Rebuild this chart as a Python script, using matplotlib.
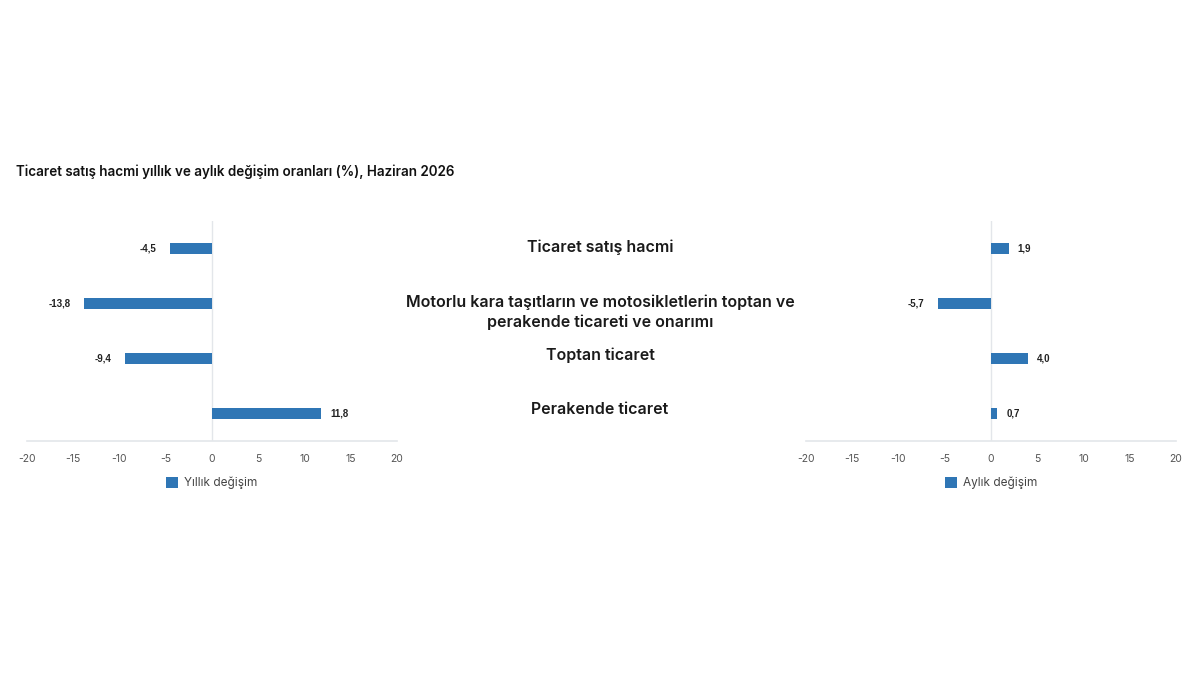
import numpy as np
import matplotlib.pyplot as plt

categories = ["Ticaret satış hacmi",
              "Motorlu kara taşıtların ve motosikletlerin toptan ve\nperakende ticareti ve onarımı",
              "Toptan ticaret",
              "Perakende ticaret"]
yillik = [-4.5, -13.8, -9.4, 11.8]
aylik = [1.9, -5.7, 4.0, 0.7]
ticks = [-20, -15, -10, -5, 0, 5, 10, 15, 20]

bar_color = "#2f76b5"
grid_color = "#e3e6ea"

fig = plt.figure(figsize=(12, 6.75), dpi=100)
fig.patch.set_facecolor("white")

fig.text(0.0135, 1 - 172 / 675, "Ticaret satış hacmi yıllık ve aylık değişim oranları (%), Haziran 2026",
         fontsize=9.7, fontweight="semibold", family="Inter", color="#111111", va="center")


def panel(left, values, legend_label):
    ax = fig.add_axes([left, 1 - 441 / 675, 370 / 1200, 220 / 675])
    y = np.arange(len(values))
    ax.barh(y, values, height=0.2, color=bar_color, zorder=3)
    ax.set_ylim(len(values) - 0.5, -0.5)
    ax.set_xlim(-20, 20)
    ax.set_xticks(ticks)
    ax.set_xticklabels([str(t) for t in ticks], fontsize=7.5, color="#555555", family="Inter")
    ax.tick_params(axis="x", length=0, pad=9)
    ax.set_yticks([])
    for s in ["top", "left", "right"]:
        ax.spines[s].set_visible(False)
    ax.spines["bottom"].set_color(grid_color)
    ax.spines["bottom"].set_linewidth(1.2)
    ax.axvline(0, color=grid_color, lw=1, zorder=1)
    for yi, v in zip(y, values):
        txt = f"{v:.1f}".replace(".", ",")
        if v < 0:
            ax.annotate(txt, (v, yi), xytext=(-10, 0), textcoords="offset points",
                        ha="right", va="center", fontsize=7, fontweight="bold",
                        family="Liberation Sans", color="#222222")
        else:
            ax.annotate(txt, (v, yi), xytext=(6.5, 0), textcoords="offset points",
                        ha="left", va="center", fontsize=7, fontweight="bold",
                        family="Liberation Sans", color="#222222")
    ax.bar([0], [0], color=bar_color, label=legend_label)
    leg = ax.legend(loc="upper center", bbox_to_anchor=(0.5, -0.115), frameon=False,
                    prop={"family": "Inter", "size": 8.5}, handlelength=1.0, handleheight=1.0,
                    handletextpad=0.5)
    for t in leg.get_texts():
        t.set_color("#444444")
    return ax


panel(27 / 1200, yillik, "Yıllık değişim")
panel(806 / 1200, aylik, "Aylık değişim")

label_y = [247, 312, 355, 410]
for lab, yy in zip(categories, label_y):
    fig.text(0.5, 1 - yy / 675, lab, ha="center", va="center", fontsize=11.5,
             fontweight="semibold", family="Inter", color="#1a1a1a", linespacing=1.35)

fig.savefig("out.png", dpi=100)
